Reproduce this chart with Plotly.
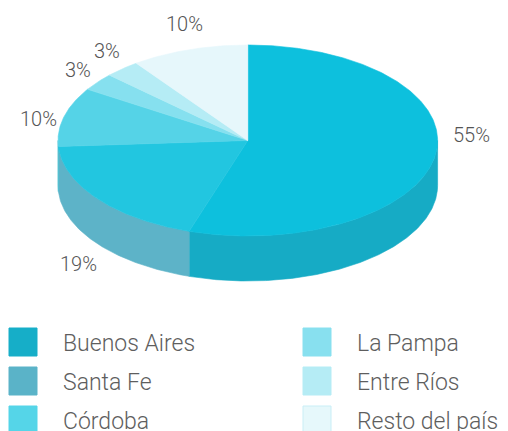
import numpy as np
import plotly.graph_objects as go

# ---------------- data ----------------
categories = ["Buenos Aires", "Santa Fe", "Córdoba", "La Pampa", "Entre Ríos", "Resto del país"]
shares = [55, 19, 10, 3, 3, 10]
pct_labels = ["55%", "19%", "10%", "3%", "3%", "10%"]

# ---------------- style ----------------
top_colors = ["#0dc0dd", "#22c6e0", "#55d3e7", "#86e0ef", "#b5ecf5", "#e6f7fb"]
side_colors = ["#16abc5", "#5db3c8", "#4cbfd2", "#78ccda", "#a3d8e1", "#cfe6ea"]
legend_colors = ["#16aec8", "#5ab3c8", "#55d5e8", "#88e0ef", "#b5ecf5", "#e6f8fb"]
legend_border = ["#16aec8", "#5ab3c8", "#55d5e8", "#88e0ef", "#b5ecf5", "#c9eef6"]
label_yshift = [46, 0, 0, 0, 0, 0]

W, H = 508, 431
PAGE_OFF = 8  # browser body margin
CX, CY, RX, RY, DEPTH = 247.8, 140.5, 189.8, 95.5, 45
LCX, LCY, LA, LB = 253, 153, 221, 136

LEG_X0, LEG_DX, LEG_Y0, LEG_DY, LEG_TXT = 23, 294, 342, 39, 38

PCT_FONT = dict(family="Roboto, DejaVu Sans Condensed, sans-serif",
                size=20, color="#555555", weight=300)
LEG_FONT = dict(family="Roboto, DejaVu Sans, sans-serif", size=23, color="#5e5e5e", weight=300)


def arc(a0, a1, dy=0.0):
    n = max(3, int(abs(a1 - a0) * 2) + 2)
    t = np.radians(np.linspace(a0, a1, n))
    return CX + RX * np.sin(t), CY - RY * np.cos(t) + dy


fig = go.Figure()

total = float(sum(shares))
bounds = []
acc = 0.0
for s in shares:
    a0 = acc / total * 360.0
    acc += s
    a1 = acc / total * 360.0
    bounds.append((a0, a1))

# side walls (front half only: 90..270 deg clockwise from top)
for i, (a0, a1) in enumerate(bounds):
    lo, hi = max(a0, 90.0), min(a1, 270.0)
    if hi <= lo:
        continue
    xt, yt = arc(lo, hi)
    xb, yb = arc(hi, lo, DEPTH)
    xs = np.concatenate([xt, xb, xt[:1]])
    ys = np.concatenate([yt, yb, yt[:1]])
    fig.add_trace(go.Scatter(x=xs, y=ys, mode="lines", fill="toself",
                             fillcolor=side_colors[i],
                             line=dict(color=side_colors[i], width=0.6),
                             hoverinfo="skip", showlegend=False))

# top faces
for i, (a0, a1) in enumerate(bounds):
    xa, ya = arc(a0, a1)
    xs = np.concatenate([[CX], xa, [CX]])
    ys = np.concatenate([[CY], ya, [CY]])
    fig.add_trace(go.Scatter(x=xs, y=ys, mode="lines", fill="toself",
                             fillcolor=top_colors[i],
                             line=dict(color=top_colors[i], width=0.6),
                             hoverinfo="skip", showlegend=False,
                             name=categories[i]))

annotations = []
# percentage labels
for i, (a0, a1) in enumerate(bounds):
    m = np.radians((a0 + a1) / 2)
    lx = LCX + LA * np.sin(m)
    ly = LCY - LB * np.cos(m)
    if np.cos(m) < 0:
        ly += DEPTH * (-np.cos(m))
    annotations.append(dict(x=lx, y=ly, xref="x", yref="y", text=pct_labels[i],
                            showarrow=False, font=PCT_FONT, xanchor="center",
                            yanchor="middle", yshift=label_yshift[i]))

# custom legend (2 columns x 3 rows)
lx_list, ly_list = [], []
for i, name in enumerate(categories):
    col, row = i // 3, i % 3
    x = LEG_X0 + col * LEG_DX
    y = LEG_Y0 + row * LEG_DY
    lx_list.append(x)
    ly_list.append(y)
    annotations.append(dict(x=x + LEG_TXT, y=y + 1, xref="x", yref="y", text=name,
                            showarrow=False, font=LEG_FONT, xanchor="left",
                            yanchor="middle"))

fig.add_trace(go.Scatter(x=lx_list, y=ly_list, mode="markers",
                         marker=dict(symbol="square", size=28, color=legend_colors,
                                     line=dict(color=legend_border, width=1)),
                         hoverinfo="skip", showlegend=False, cliponaxis=False))

fig.update_layout(
    width=W - PAGE_OFF, height=H - PAGE_OFF,
    margin=dict(l=0, r=0, t=0, b=0),
    paper_bgcolor="white", plot_bgcolor="white",
    showlegend=False,
    annotations=annotations,
    xaxis=dict(range=[PAGE_OFF, W], visible=False, fixedrange=True),
    yaxis=dict(range=[H, PAGE_OFF], visible=False, fixedrange=True),
)

fig.write_html("out.html")
